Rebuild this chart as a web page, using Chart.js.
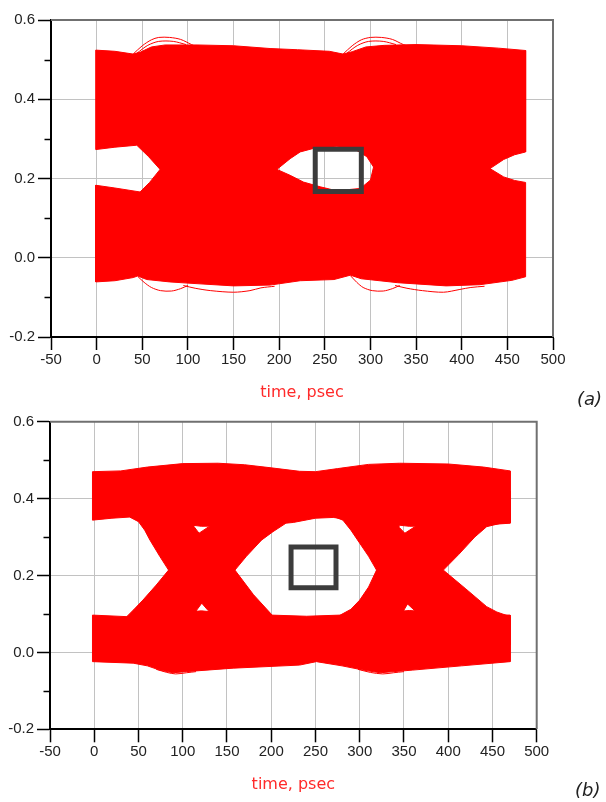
<!DOCTYPE html>
<html>
<head>
<meta charset="utf-8">
<script src="https://cdn.jsdelivr.net/npm/chart.js@4.4.1/dist/chart.umd.min.js"></script>
<style>
  html, body { margin: 0; padding: 0; background: #fff; }
  #wrap { position: relative; width: 606px; height: 802px; overflow: hidden; }
  #eyeA { position: absolute; left: 0; top: 0; }
  #eyeB { position: absolute; left: 0; top: 404px; }
  .tag { position: absolute; font-family: "DejaVu Sans", sans-serif; font-style: italic;
         font-size: 18px; line-height: 18px; color: #222; }
</style>
</head>
<body>
<div id="wrap">
  <canvas id="eyeA" width="606" height="404"></canvas>
  <canvas id="eyeB" width="606" height="398"></canvas>
  <div class="tag" style="left:577px;top:390px">(a)</div>
  <div class="tag" style="left:575px;top:781px">(b)</div>
</div>
<script>
// Axis ranges (time in psec, amplitude in V)
const xRange = [-50, 500];
const xStep = 50;
const yRange = [-0.2, 0.6];
const yStep = 0.1;
const xTitle = 'time, psec';

// ---------- Eye (a): traces envelope, split into an upper and a lower body ----------
const aUpperBody = [
  [-1, 0.524], [20, 0.521], [40, 0.514], [48, 0.519], [60, 0.532], [75, 0.537], [110, 0.537],
  [150, 0.535], [190, 0.528], [220, 0.525], [255, 0.521], [270, 0.514], [280, 0.52], [295, 0.532],
  [315, 0.536], [350, 0.538], [400, 0.535], [440, 0.529], [470, 0.523],
  [470, 0.267], [458, 0.26], [446, 0.248], [431, 0.225], [420, 0.19], [315, 0.19], [303.4, 0.229],
  [296, 0.255], [281.5, 0.276], [263, 0.28], [237.6, 0.276], [223, 0.267], [212, 0.25], [197.5, 0.223],
  [185, 0.19], [80, 0.19], [69.5, 0.223], [57, 0.255], [44, 0.284], [20, 0.279], [-1, 0.273], [-1, 0.524]
];
const aLowerBody = [
  [-1, -0.061], [20, -0.058], [40, -0.05], [45, -0.046], [55, -0.055], [80, -0.061], [100, -0.064],
  [150, -0.071], [190, -0.069], [223, -0.058], [260, -0.055], [278, -0.044], [290, -0.053],
  [330, -0.063], [383, -0.071], [420, -0.068], [455, -0.057], [470, -0.048],
  [470, 0.19], [458, 0.195], [446, 0.204], [431, 0.225], [420, 0.26], [315, 0.26], [303.4, 0.229],
  [300, 0.196], [289, 0.175], [263, 0.169], [245, 0.179], [226.6, 0.191], [212, 0.208], [197.5, 0.223],
  [185, 0.26], [80, 0.26], [69.5, 0.223], [58, 0.19], [47.6, 0.166], [20, 0.176], [-1, 0.183], [-1, -0.061]
];
// stray overshoot / undershoot traces of eye (a)
const aStrayTraces = [
  [[40, 0.514], [50, 0.535], [60, 0.55], [68, 0.556], [80, 0.556], [92, 0.551], [104, 0.538], [112, 0.53]],
  [[44, 0.516], [56, 0.536], [68, 0.546], [84, 0.546], [98, 0.538]],
  [[270, 0.514], [280, 0.535], [290, 0.55], [300, 0.556], [312, 0.556], [324, 0.551], [336, 0.538], [344, 0.532]],
  [[274, 0.516], [286, 0.536], [298, 0.546], [314, 0.546], [328, 0.538]],
  [[45, -0.047], [52, -0.062], [60, -0.075], [70, -0.083], [82, -0.084], [92, -0.078], [100, -0.07]],
  [[95, -0.07], [108, -0.077], [125, -0.083], [150, -0.087], [168, -0.083], [180, -0.076], [195, -0.072]],
  [[278, -0.045], [285, -0.062], [292, -0.075], [302, -0.083], [314, -0.084], [324, -0.078], [332, -0.07]],
  [[327, -0.07], [340, -0.077], [357, -0.083], [380, -0.087], [398, -0.08], [410, -0.075], [425, -0.072]]
];
const aMask = [[239.5, 0.167], [290, 0.167], [290, 0.274], [239.5, 0.274], [239.5, 0.167]];

// ---------- Eye (b): high rail, low rail and the two transition crossings ----------
const bHighRail = [
  [-2, 0.470], [30, 0.472], [60, 0.482], [100, 0.491], [140, 0.492], [170, 0.488], [200, 0.48],
  [232, 0.471], [250, 0.470], [275, 0.478], [310, 0.489], [345, 0.492], [400, 0.490], [440, 0.482], [470, 0.472],
  [470, 0.336], [430, 0.33], [356, 0.328], [300, 0.342], [290, 0.345], [270, 0.351], [250, 0.349],
  [225, 0.338], [190, 0.33], [121, 0.328], [60, 0.345], [40, 0.352], [20, 0.349], [-2, 0.344], [-2, 0.470]
];
const bLowRail = [
  [-2, 0.097], [37, 0.093], [80, 0.1], [121, 0.108], [160, 0.1], [200, 0.097], [240, 0.094], [278, 0.097],
  [320, 0.102], [356, 0.109], [400, 0.102], [440, 0.098], [470, 0.097],
  [470, -0.024], [415, -0.035], [360, -0.046], [323, -0.053], [304, -0.046], [280, -0.035], [251, -0.024],
  [232, -0.033], [157, -0.041], [104, -0.05], [89, -0.053], [74, -0.046], [60, -0.035], [44, -0.028],
  [-2, -0.024], [-2, 0.097]
];
const bFallingEdge1 = [
  [30, 0.42], [40, 0.352], [50, 0.34], [57, 0.318], [63, 0.292], [74, 0.25], [84, 0.214], [100, 0.17],
  [121.5, 0.128], [129, 0.108], [135, 0.06], [140, 0.02], [215, 0.02], [201, 0.097], [180, 0.15],
  [159, 0.214], [140, 0.26], [118.4, 0.31], [112.8, 0.327], [105, 0.42], [30, 0.42]
];
const bRisingEdge1 = [
  [25, 0.02], [36.7, 0.093], [45, 0.112], [55, 0.136], [70, 0.175], [84, 0.214], [100, 0.26],
  [118.4, 0.31], [130.8, 0.329], [135, 0.42], [230, 0.42], [216, 0.335], [202, 0.314], [189, 0.292],
  [172, 0.25], [159, 0.214], [140, 0.17], [121.5, 0.128], [115.8, 0.11], [110, 0.02], [25, 0.02]
];
const bFallingEdge2 = [
  [262, 0.42], [272, 0.352], [281, 0.344], [290, 0.318], [300, 0.284], [310, 0.25], [319, 0.214],
  [337, 0.165], [354, 0.126], [362.5, 0.108], [368, 0.06], [372, 0.02], [470, 0.02], [470, 0.093],
  [455, 0.105], [443.5, 0.119], [420, 0.165], [394.5, 0.214], [375, 0.26], [351, 0.31], [344.7, 0.325],
  [338, 0.42], [262, 0.42]
];
const bRisingEdge2 = [
  [262, 0.02], [270, 0.08], [278, 0.097], [290, 0.112], [300, 0.136], [310, 0.17], [319, 0.214],
  [335, 0.26], [351, 0.31], [364.4, 0.33], [372, 0.42], [470, 0.42], [470, 0.338], [458, 0.335],
  [443.5, 0.327], [430, 0.3], [412, 0.255], [394.5, 0.214], [375, 0.17], [354, 0.126], [350, 0.11],
  [345, 0.02], [262, 0.02]
];
const bStrayTraces = [
  [[70, -0.044], [82, -0.052], [92, -0.056], [104, -0.053], [115, -0.05]],
  [[298, -0.044], [312, -0.052], [326, -0.056], [338, -0.053], [350, -0.05]]
];
const bMask = [[222.4, 0.168], [273.2, 0.168], [273.2, 0.274], [222.4, 0.274], [222.4, 0.168]];

// ---------- drawing ----------
const TRACE_RED = '#ff0000';
const pts = (arr) => arr.map(([x, y]) => ({ x, y }));
const isMajorY = (v) => Math.abs(Math.round(v * 10)) % 2 === 0;

const body = (arr) => ({
  data: pts(arr), showLine: true, fill: 'shape', tension: 0,
  backgroundColor: TRACE_RED, borderColor: TRACE_RED, borderWidth: 1, pointRadius: 0
});
const trace = (arr) => ({
  data: pts(arr), showLine: true, fill: false, tension: 0.3,
  borderColor: TRACE_RED, borderWidth: 1, pointRadius: 0
});
const mask = (arr) => ({
  data: pts(arr), showLine: true, fill: false, tension: 0,
  borderColor: '#3c3c3c', borderWidth: 5, borderCapStyle: 'square', borderJoinStyle: 'miter', pointRadius: 0
});

// short minor ticks on the amplitude axis plus the grey frame on top/right
const framePlugin = {
  id: 'frameAndMinorTicks',
  afterDraw(chart) {
    const { ctx, chartArea: a, scales: { y } } = chart;
    ctx.save();
    ctx.strokeStyle = '#707070';
    ctx.lineWidth = 2;
    ctx.beginPath();
    ctx.moveTo(a.left, a.top);
    ctx.lineTo(a.right, a.top);
    ctx.lineTo(a.right, a.bottom);
    ctx.stroke();
    ctx.strokeStyle = '#000';
    ctx.lineWidth = 1.5;
    y.ticks.forEach((t) => {
      if (isMajorY(t.value)) return;
      const py = Math.round(y.getPixelForValue(t.value)) + 0.5;
      ctx.beginPath();
      ctx.moveTo(a.left - 6.5, py);
      ctx.lineTo(a.left, py);
      ctx.stroke();
    });
    ctx.restore();
  }
};

function makeEye(canvasId, datasets, box) {
  const tickFont = { family: '"Liberation Sans", Arial, sans-serif', size: 15 };
  return new Chart(document.getElementById(canvasId), {
    type: 'scatter',
    data: { datasets },
    options: {
      responsive: false,
      animation: false,
      events: [],
      layout: { padding: { left: 0, top: box.top, right: box.right, bottom: 0 } },
      plugins: { legend: { display: false }, tooltip: { enabled: false } },
      scales: {
        x: {
          type: 'linear', min: xRange[0], max: xRange[1],
          afterFit(s) { s.height = box.xHeight; },
          ticks: { stepSize: xStep, autoSkip: false, maxRotation: 0, padding: 1, font: tickFont, color: '#222',
                   callback: (v) => String(v) },
          grid: { color: '#c2c2c2', lineWidth: 1, tickColor: '#000', tickLength: 13, tickWidth: 1.5 },
          border: { display: true, color: '#000', width: 2 },
          title: { display: true, text: xTitle, color: '#ff2a2a',
                   font: { family: '"DejaVu Sans", sans-serif', size: 16 },
                   padding: { top: 0, bottom: box.titlePad } }
        },
        y: {
          type: 'linear', min: yRange[0], max: yRange[1],
          afterFit(s) { s.width = box.yWidth; },
          ticks: { stepSize: yStep, autoSkip: false, padding: 3, font: tickFont, color: '#222',
                   callback: (v) => (isMajorY(v) ? (Math.abs(v) < 1e-9 ? 0 : v).toFixed(1) : '') },
          grid: {
            color: (c) => (c.tick && isMajorY(c.tick.value) ? '#c2c2c2' : 'rgba(0,0,0,0)'),
            lineWidth: 1,
            tickColor: (c) => (c.tick && isMajorY(c.tick.value) ? '#000' : 'rgba(0,0,0,0)'),
            tickLength: 13, tickWidth: 1.5
          },
          border: { display: true, color: '#000', width: 2 }
        }
      }
    },
    plugins: [framePlugin]
  });
}

makeEye('eyeA',
  [mask(aMask), ...aStrayTraces.map(trace), body(aUpperBody), body(aLowerBody)],
  { top: 20, right: 53, xHeight: 67, yWidth: 51, titlePad: 1.4 });

makeEye('eyeB',
  [mask(bMask), ...bStrayTraces.map(trace),
   body(bFallingEdge1), body(bRisingEdge1), body(bFallingEdge2), body(bRisingEdge2),
   body(bHighRail), body(bLowRail)],
  { top: 17.7, right: 69.3, xHeight: 72.7, yWidth: 50, titlePad: 7.4 });
</script>
</body>
</html>
